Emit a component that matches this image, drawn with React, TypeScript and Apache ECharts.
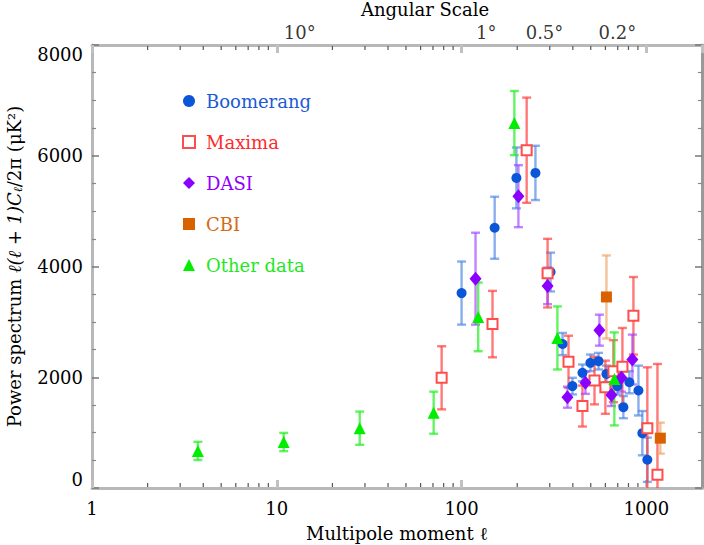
import React, { useEffect, useRef } from 'react';
import * as echarts from 'echarts';

// ---- Data (multipole ℓ, power, symmetric error) ----
const boomerangL = [100, 151, 198, 251, 303, 352, 398, 451, 498, 551, 608, 697, 751, 809, 906, 951, 1012];
const boomerangV = [3520, 4700, 5600, 5690, 3900, 2600, 1840, 2080, 2260, 2290, 2060, 1840, 1460, 1910, 1760, 990, 510];
const boomerangE = [570, 560, 550, 490, 350, 200, 150, 150, 150, 150, 150, 150, 200, 200, 450, 400, 400];

const maximaL = [78, 147, 225, 292, 379, 451, 524, 600, 663, 742, 851, 1012, 1148];
const maximaV = [1990, 2960, 6100, 3880, 2280, 1480, 1940, 1820, 2110, 2190, 3110, 1080, 240];
const maximaE = [570, 600, 950, 620, 470, 370, 430, 480, 560, 700, 700, 1100, 2000];

const dasiL = [119, 203, 292, 374, 468, 557, 647, 733, 840];
const dasiV = [3780, 5270, 3650, 1640, 1900, 2850, 1680, 1990, 2320];
const dasiE = [830, 560, 330, 190, 200, 280, 200, 250, 450];

const cbiL = [608, 1190];
const cbiV = [3450, 900];
const cbiE = [750, 280];

const otherL = [3.74, 10.9, 28.1, 70.6, 123, 193, 330, 671];
const otherV = [670, 830, 1080, 1360, 3090, 6590, 2710, 1970];
const otherE = [165, 165, 300, 380, 620, 580, 570, 840];

// Top axis (angular scale) label positions in ℓ and their texts
const angularL = [13.3, 136, 281, 697];
const angularLabels = ['10°', '1°', '0.5°', '0.2°'];

const xMin = 1;
const xMax = 2000;
const yMin = 0;
const yMax = 8000;

const FONT = "'DejaVu Serif', 'Liberation Serif', serif";

function zip3(l: number[], v: number[], e: number[]) {
  return l.map((x, i) => [x, v[i], e[i]]);
}

function minorTickValues() {
  const out: number[][] = [];
  for (let d = 0; d < 4; d++) {
    for (let k = 2; k <= 9; k++) {
      const v = k * Math.pow(10, d);
      if (v < xMax) out.push([v, 0]);
    }
  }
  return out;
}

function errRender(color: string, opacity: number) {
  return (params: any, api: any) => {
    const x = api.value(0);
    const y = api.value(1);
    const e = api.value(2);
    const loRaw = y - e;
    const hiRaw = y + e;
    const lo = Math.max(yMin, loRaw);
    const hi = Math.min(yMax, hiRaw);
    const p1 = api.coord([x, hi]);
    const p2 = api.coord([x, lo]);
    const cap = 4.5;
    const style = { stroke: color, lineWidth: 2.4, opacity };
    const children: any[] = [
      { type: 'line', shape: { x1: p1[0], y1: p1[1], x2: p2[0], y2: p2[1] }, style },
    ];
    if (hiRaw <= yMax) {
      children.push({ type: 'line', shape: { x1: p1[0] - cap, y1: p1[1], x2: p1[0] + cap, y2: p1[1] }, style });
    }
    if (loRaw >= yMin) {
      children.push({ type: 'line', shape: { x1: p2[0] - cap, y1: p2[1], x2: p2[0] + cap, y2: p2[1] }, style });
    }
    return { type: 'group', children };
  };
}

function minorTickRender(params: any, api: any) {
  const x = api.value(0);
  const b = api.coord([x, yMin]);
  const t = api.coord([x, yMax]);
  const style = { stroke: '#555', lineWidth: 1.2 };
  return {
    type: 'group',
    children: [
      { type: 'line', shape: { x1: b[0], y1: b[1] - 1, x2: b[0], y2: b[1] - 5 }, style },
      { type: 'line', shape: { x1: t[0], y1: t[1] + 1, x2: t[0], y2: t[1] + 5 }, style },
    ],
  };
}

function decadeLabel(v: number) {
  const l = Math.log10(v);
  return Math.abs(l - Math.round(l)) < 1e-6 ? String(Math.round(v)) : '';
}

const AXIS_GRAY = '#b8b8b8';

export default function App() {
  const ref = useRef<HTMLDivElement>(null);

  useEffect(() => {
    if (!ref.current) return;
    const chart = echarts.init(ref.current, undefined, { renderer: 'svg' });

    const datasets = [
      { name: 'Boomerang', data: zip3(boomerangL, boomerangV, boomerangE), symbol: 'circle', size: 10,
        item: { color: '#0a55d8' }, err: '#4a82e2', errOp: 0.65, text: '#1a5ad6' },
      { name: 'Maxima', data: zip3(maximaL, maximaV, maximaE), symbol: 'rect', size: 10,
        item: { color: '#ffffff', borderColor: '#ff4d4d', borderWidth: 2 }, err: '#ff4040', errOp: 0.7, text: '#ff2a2a' },
      { name: 'DASI', data: zip3(dasiL, dasiV, dasiE), symbol: 'diamond', size: [12, 14],
        item: { color: '#8a00ff' }, err: '#a040ff', errOp: 0.65, text: '#8f00ff' },
      { name: 'CBI', data: zip3(cbiL, cbiV, cbiE), symbol: 'rect', size: 11,
        item: { color: '#d96100' }, err: '#f0a060', errOp: 0.65, text: '#d66a12' },
      { name: 'Other data', data: zip3(otherL, otherV, otherE), symbol: 'triangle', size: 12,
        item: { color: '#00ee00' }, err: '#22ee22', errOp: 0.7, text: '#1ee81e' },
    ];

    const series: any[] = [];
    datasets.forEach((d) => {
      series.push({
        type: 'custom',
        name: d.name + ' error',
        renderItem: errRender(d.err, d.errOp),
        data: d.data,
        encode: { x: 0, y: 1 },
        z: 2,
        silent: true,
      });
    });
    datasets.forEach((d) => {
      series.push({
        type: 'scatter',
        name: d.name,
        data: d.data.map((p) => [p[0], p[1]]),
        symbol: d.symbol,
        symbolSize: d.size,
        itemStyle: { ...d.item, opacity: 1 },
        z: 3,
      });
    });
    series.push({
      type: 'custom',
      name: 'minor ticks',
      renderItem: minorTickRender,
      data: minorTickValues(),
      encode: { x: 0, y: 1 },
      silent: true,
      z: 1,
    });
    series.push({
      type: 'scatter',
      name: 'angular',
      xAxisIndex: 1,
      yAxisIndex: 0,
      data: angularL.map((l, i) => ({ value: [l, yMax], name: angularLabels[i] })),
      symbolSize: 1,
      itemStyle: { color: 'transparent' },
      clip: false,
      silent: true,
      label: {
        show: true,
        position: 'top',
        distance: 3,
        formatter: '{b}',
        color: '#000',
        fontFamily: FONT,
        fontSize: 18,
      },
    });

    const labelStyle = { color: '#000', fontFamily: FONT, fontSize: 18 };

    chart.setOption({
      animation: false,
      backgroundColor: '#ffffff',
      textStyle: { fontFamily: FONT },
      grid: { left: 92, right: 2, top: 45, bottom: 57, containLabel: false, outerBoundsMode: 'none' },
      legend: {
        orient: 'vertical',
        left: 177,
        top: 87,
        itemGap: 23,
        itemWidth: 12,
        itemHeight: 12,
        selectedMode: false,
        data: datasets.map((d) => ({ name: d.name, textStyle: { color: d.text } })),
        textStyle: { fontFamily: FONT, fontSize: 18, padding: [0, 0, 0, 6] },
      },
      xAxis: [
        {
          type: 'log',
          logBase: 10,
          min: xMin,
          max: xMax,
          position: 'bottom',
          name: 'Multipole moment ℓ',
          nameLocation: 'middle',
          nameGap: 36,
          nameTextStyle: { ...labelStyle },
          axisLine: { show: true, onZero: false, lineStyle: { color: AXIS_GRAY, width: 3 } },
          axisTick: { show: true, inside: true, length: 8, lineStyle: { color: '#c0c0c0', width: 3 } },
          axisLabel: { ...labelStyle, margin: 11, formatter: decadeLabel, showMaxLabel: false },
          splitLine: { show: false },
          minorTick: { show: false },
        },
        {
          type: 'log',
          logBase: 10,
          min: xMin,
          max: xMax,
          position: 'top',
          name: 'Angular Scale',
          nameLocation: 'middle',
          nameGap: 27,
          nameTextStyle: { ...labelStyle, padding: [0, 0, 0, 56] },
          axisLine: { show: true, onZero: false, lineStyle: { color: AXIS_GRAY, width: 3 } },
          axisTick: { show: true, inside: true, length: 8, lineStyle: { color: '#c0c0c0', width: 3 } },
          axisLabel: { show: false },
          splitLine: { show: false },
        },
      ],
      yAxis: [
        {
          type: 'value',
          min: yMin,
          max: yMax,
          interval: 2000,
          position: 'left',
          name: '{n|Power spectrum }{i|ℓ(ℓ + 1)C}{s|ℓ}{n|/2π (μK²)}',
          nameLocation: 'middle',
          nameGap: 68,
          nameTextStyle: {
            ...labelStyle,
            rich: {
              n: { fontFamily: FONT, fontSize: 18, color: '#000' },
              i: { fontFamily: FONT, fontSize: 18, color: '#000', fontStyle: 'italic' },
              s: { fontFamily: FONT, fontSize: 12, color: '#000', fontStyle: 'italic', padding: [8, 0, 0, 0] },
            },
          },
          axisLine: { show: true, onZero: false, lineStyle: { color: AXIS_GRAY, width: 3 } },
          axisTick: { show: true, inside: true, length: 7, lineStyle: { color: '#777', width: 1.5 } },
          minorTick: { show: true, splitNumber: 4, length: 4, lineStyle: { color: '#888', width: 1.2 } },
          axisLabel: {
            ...labelStyle,
            margin: 9,
            formatter: (v: number) => String(v),
            verticalAlignMinLabel: 'bottom',
            verticalAlignMaxLabel: 'top',
          },
          splitLine: { show: false },
          minorSplitLine: { show: false },
        },
        {
          type: 'value',
          min: yMin,
          max: yMax,
          interval: 2000,
          position: 'right',
          axisLine: { show: true, onZero: false, lineStyle: { color: '#999', width: 3 } },
          axisTick: { show: true, inside: true, length: 7, lineStyle: { color: '#777', width: 1.5 } },
          minorTick: { show: true, splitNumber: 4, length: 4, lineStyle: { color: '#888', width: 1.2 } },
          axisLabel: { show: false },
          splitLine: { show: false },
          minorSplitLine: { show: false },
        },
      ],
      series,
    });

    return () => {
      chart.dispose();
    };
  }, []);

  return (
    <div
      ref={ref}
      style={{ position: 'fixed', left: 0, top: 0, width: 704, height: 545, background: '#fff' }}
    />
  );
}
